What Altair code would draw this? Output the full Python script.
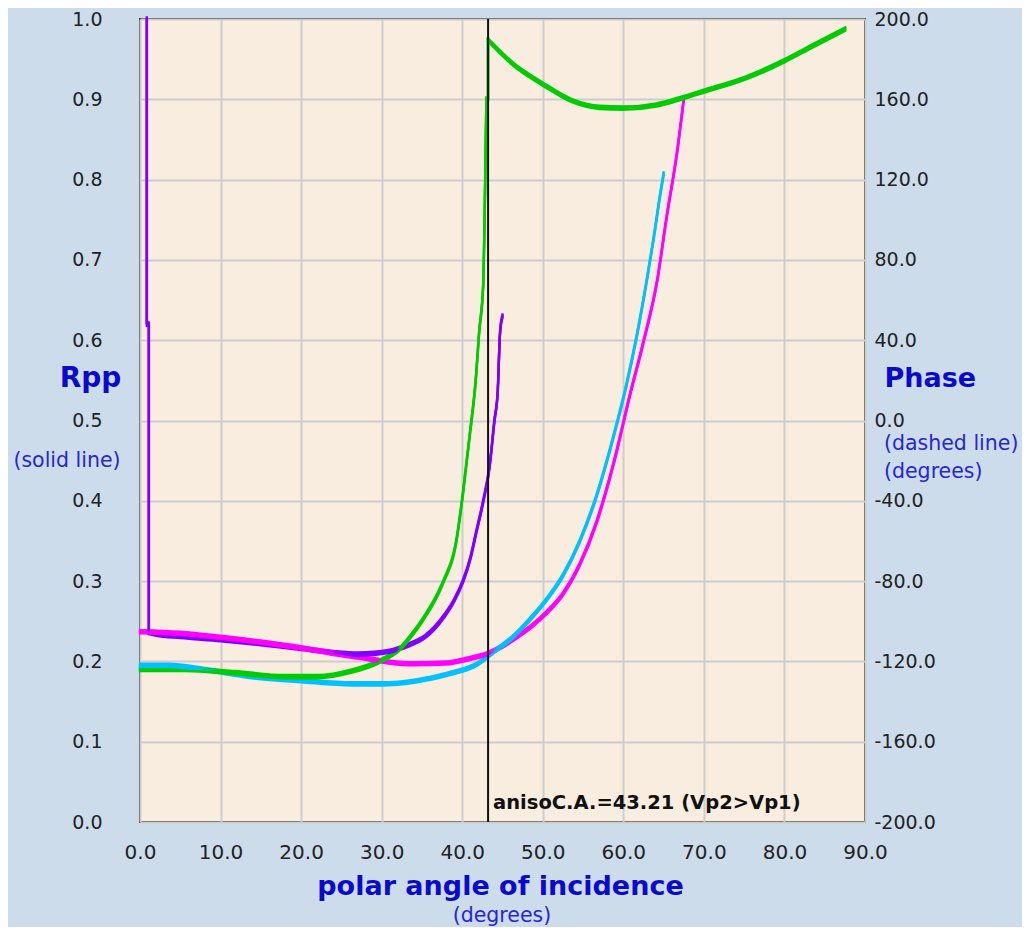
import altair as alt
import pandas as pd

# ---------------- data ----------------
purple_angle = [0.85, 0.85, 1.1, 1.1, 2, 5, 10, 15, 20, 24, 27, 29, 31.5, 33.5, 35.4, 36.5,
                37.8, 39, 40.1, 41, 41.7, 42.6, 43.4, 44.0, 44.4, 44.7, 45.0]
purple_rpp = [1.0, 0.62, 0.62, 0.236, 0.234, 0.231, 0.227, 0.222, 0.216, 0.211, 0.209, 0.210,
              0.214, 0.221, 0.231, 0.241, 0.257, 0.276, 0.300, 0.328, 0.359, 0.399, 0.443,
              0.500, 0.535, 0.610, 0.630]

magenta_angle = [0, 5, 10, 15, 20, 24, 28, 31, 34, 38, 40.7, 43.2, 45, 46.25, 48.75, 50.5,
                 52.5, 54.6, 56.7, 58.75, 60.8, 62.5, 64.2, 65.4, 66.7, 67.5]
magenta_rpp = [0.237, 0.235, 0.230, 0.224, 0.217, 0.210, 0.204, 0.199, 0.197, 0.198, 0.203,
               0.210, 0.219, 0.227, 0.245, 0.261, 0.284, 0.321, 0.374, 0.445, 0.531, 0.598,
               0.674, 0.755, 0.836, 0.900]

cyan_angle = [0, 3.5, 8, 13.9, 20, 26.3, 30, 34.4, 38.5, 41.9, 43.9, 46.25, 48, 50, 52.5,
              54.6, 56.7, 58.75, 60.4, 61.7, 62.9, 63.75, 64.6, 65.0]
cyan_rpp = [0.195, 0.195, 0.190, 0.181, 0.176, 0.172, 0.172, 0.176, 0.185, 0.197, 0.212,
            0.230, 0.248, 0.271, 0.307, 0.350, 0.407, 0.479, 0.545, 0.607, 0.674, 0.726,
            0.783, 0.807]

green_angle = [0, 5.6, 11.8, 18, 22.1, 26.3, 29.5, 32.5, 33.5, 35.1, 36.5, 37.6, 39.3, 40.1,
               40.9, 41.7, 42.1, 42.6, 42.8, 43.0, 43.2, 43.2, 46.3, 50, 53.7, 57.05, 60,
               64.1, 67.4, 70, 75.3, 80, 83.6, 87.55]
green_rpp = [0.190, 0.190, 0.186, 0.181, 0.181, 0.188, 0.199, 0.218, 0.230, 0.252, 0.275,
             0.298, 0.352, 0.410, 0.479, 0.553, 0.610, 0.668, 0.766, 0.900, 0.900, 0.974,
             0.944, 0.919, 0.898, 0.890, 0.889, 0.893, 0.902, 0.910, 0.927, 0.948, 0.967,
             0.9875]

series_names = ["purple", "magenta", "cyan", "green"]
series_colors = ["#8000FF", "#FF00FF", "#00C0FF", "#00CC00"]

x_ticks = [0, 10, 20, 30, 40, 50, 60, 70, 80, 90]
rpp_ticks = [0, 0.1, 0.2, 0.3, 0.4, 0.5, 0.6, 0.7, 0.8, 0.9, 1.0]
phase_ticks = [-200, -160, -120, -80, -40, 0, 40, 80, 120, 160, 200]

critical_angle = [43.21]
critical_label = ["anisoC.A.=43.21 (Vp2>Vp1)"]

# ---------------- build table ----------------
# each series is split into pieces: "jump" pieces (vertical steps, drawn straight)
# and "curve" pieces (smooth, drawn with monotone interpolation)
pieces = {
    "purple": [("jump", 0, 3), ("curve", 3, len(purple_angle) - 1)],
    "magenta": [("curve", 0, len(magenta_angle) - 1)],
    "cyan": [("curve", 0, len(cyan_angle) - 1)],
    "green": [("curve", 0, 19), ("jump", 19, 21), ("curve", 21, len(green_angle) - 1)],
}

rows = []
for name, angs, vals in [("purple", purple_angle, purple_rpp),
                         ("magenta", magenta_angle, magenta_rpp),
                         ("cyan", cyan_angle, cyan_rpp),
                         ("green", green_angle, green_rpp)]:
    for k, (kind, i0, i1) in enumerate(pieces[name]):
        for i in range(i0, i1 + 1):
            rows.append({"series": name, "seg": f"{name}_{k}", "kind": kind,
                         "angle": angs[i], "rpp": vals[i], "idx": i})
df = pd.DataFrame(rows)

ca_df = pd.DataFrame({"ca": critical_angle, "label": critical_label,
                      "pmin": [phase_ticks[0]], "pmax": [phase_ticks[-1]]})

FONT = "DejaVu Sans"
BLUE = "#0A0ACC"
SUBBLUE = "#2626D4"
LABEL = "#222222"

x_scale = alt.Scale(domain=[0, 90], nice=False)
y_scale = alt.Scale(domain=[0, 1], nice=False)
phase_scale = alt.Scale(domain=[phase_ticks[0], phase_ticks[-1]], nice=False)
color_scale = alt.Scale(domain=series_names, range=series_colors)

x_axis = alt.Axis(values=x_ticks, format=".1f", title="polar angle of incidence",
                  grid=True, gridColor="#CDCDCD", gridWidth=2, ticks=False, domain=False,
                  labelFlush=False, labelOverlap=False,
                  labelFont=FONT, labelFontSize=20, labelColor=LABEL, labelPadding=20,
                  titleFont=FONT, titleFontSize=27, titleFontWeight="bold", titleColor=BLUE,
                  titleX=360, titleY=64, titleBaseline="middle", titleAlign="center")

y_axis = alt.Axis(values=rpp_ticks, format=".1f", title="Rpp", orient="left",
                  grid=True, gridColor="#CDCDCD", gridWidth=2, ticks=False, domain=False,
                  labelFlush=False, labelOverlap=False,
                  labelFont=FONT, labelFontSize=19, labelColor=LABEL, labelPadding=38,
                  titleFont=FONT, titleFontSize=28, titleFontWeight="bold", titleColor=BLUE,
                  titleAngle=0, titleX=-50, titleY=359, titleAlign="center",
                  titleBaseline="middle")

phase_axis = alt.Axis(values=phase_ticks, orient="right", title="Phase",
                      labelExpr="(datum.value < 0 ? '-' : '') + format(abs(datum.value), '.1f')",
                      grid=False, ticks=False, domain=False,
                      labelFlush=False, labelOverlap=False,
                      labelFont=FONT, labelFontSize=19, labelColor=LABEL, labelPadding=9,
                      labelAlign="left",
                      titleFont=FONT, titleFontSize=27, titleFontWeight="bold", titleColor=BLUE,
                      titleAngle=0, titleX=19, titleY=359, titleAlign="left",
                      titleBaseline="middle")


def line_layer(off, kind, interp):
    return alt.Chart(df).transform_filter(alt.datum.kind == kind).mark_line(
        strokeWidth=2.4, yOffset=off, interpolate=interp, strokeCap="square"
    ).encode(
        x=alt.X("angle:Q", scale=x_scale, axis=x_axis),
        y=alt.Y("rpp:Q", scale=y_scale, axis=y_axis),
        color=alt.Color("series:N", scale=color_scale, legend=None),
        detail="seg:N",
        order=alt.Order("idx:Q"),
    )


line_layers = []
for off in (-1.6, 0, 1.6):
    line_layers.append(line_layer(off, "jump", "linear"))
    line_layers.append(line_layer(off, "curve", "monotone"))
lines = alt.layer(*line_layers)

rule = alt.Chart(ca_df).mark_rule(color="#111111", strokeWidth=2).encode(
    x=alt.X("ca:Q", scale=x_scale, axis=x_axis),
    y=alt.Y("pmin:Q", scale=phase_scale, axis=phase_axis),
    y2="pmax:Q",
)

annot = alt.Chart(ca_df).mark_text(align="left", baseline="middle", dx=5, font=FONT,
                                   fontSize=19.5, fontWeight="bold", color="#111111").encode(
    x=alt.X("ca:Q", scale=x_scale, axis=x_axis),
    y=alt.value(784),
    text="label:N",
)


def note(txt, xv, yv, align):
    return alt.Chart(pd.DataFrame({"t": [txt]})).mark_text(
        align=align, baseline="middle", font=FONT, fontSize=20.5, color=SUBBLUE
    ).encode(x=alt.value(xv), y=alt.value(yv), text="t:N")


notes = alt.layer(
    note("(solid line)", -73, 442, "center"),
    note("(dashed line)", 744, 425, "left"),
    note("(degrees)", 744, 453, "left"),
    note("(degrees)", 362, 897, "center"),
)

chart = alt.layer(lines, rule, annot, notes).resolve_scale(y="independent").properties(
    width=725,
    height=803,
    background="#CCDCEA",
    padding={"left": 132, "top": 11, "right": 157, "bottom": 105},
    autosize=alt.AutoSizeParams(type="none"),
).configure_view(fill="#F9EDDF", stroke="#2A2A2A", strokeWidth=2)

chart.save("out.html", embed_options={"renderer": "svg", "actions": False})
